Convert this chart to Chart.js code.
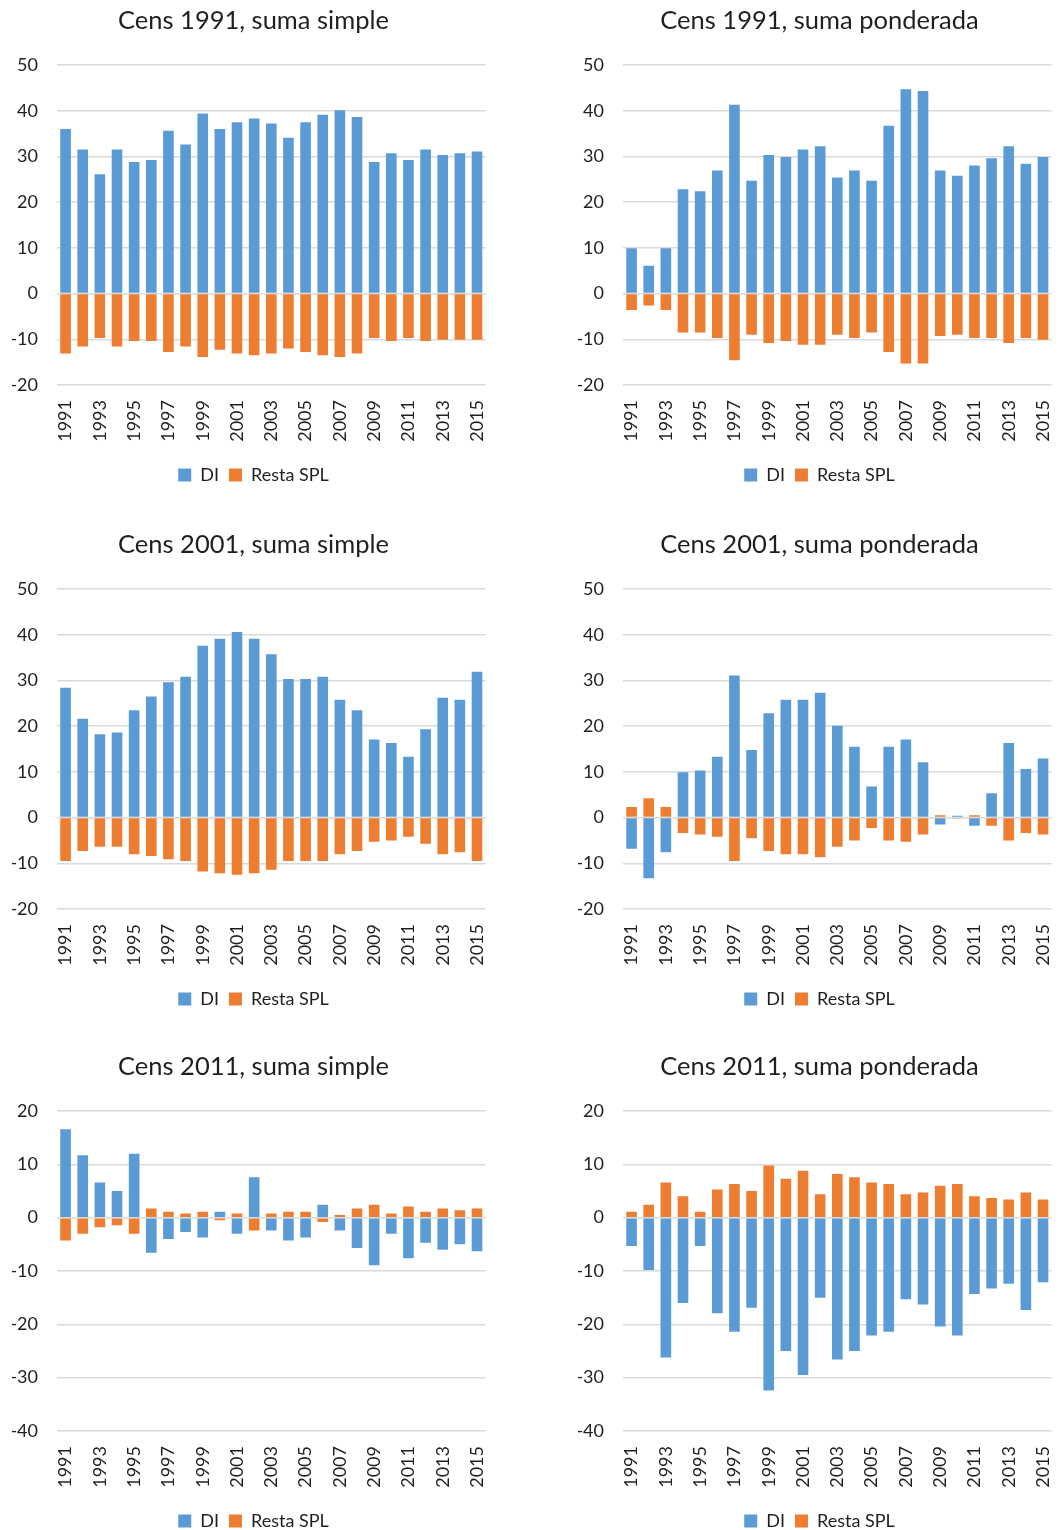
<!DOCTYPE html>
<html>
<head>
<meta charset="utf-8">
<script src="https://cdn.jsdelivr.net/npm/chart.js@4.4.1/dist/chart.umd.min.js"></script>
<style>
  html, body { margin: 0; padding: 0; background: #fff; overflow: hidden; }
  body { width: 1061px; height: 1530px; position: relative; }
  .cell { position: absolute; width: 502px; height: 494px; }
</style>
</head>
<body>
<div class="cell" style="left:12px;top:0"><canvas id="c1" width="502" height="494"></canvas></div>
<div class="cell" style="left:578px;top:0"><canvas id="c2" width="502" height="494"></canvas></div>
<div class="cell" style="left:12px;top:524px"><canvas id="c3" width="502" height="494"></canvas></div>
<div class="cell" style="left:578px;top:524px"><canvas id="c4" width="502" height="494"></canvas></div>
<div class="cell" style="left:12px;top:1046px"><canvas id="c5" width="502" height="494"></canvas></div>
<div class="cell" style="left:578px;top:1046px"><canvas id="c6" width="502" height="494"></canvas></div>
<script>
const years = ["1991","1992","1993","1994","1995","1996","1997","1998","1999","2000","2001","2002","2003",
  "2004","2005","2006","2007","2008","2009","2010","2011","2012","2013","2014","2015"];

// Cens 1991
const di1991Simple = [36.0,31.5,26.1,31.5,28.8,29.2,35.6,32.6,39.4,36.0,37.5,38.3,37.2,34.1,37.5,39.1,40.1,38.6,28.8,30.7,29.2,31.5,30.3,30.7,31.1];
const resta1991Simple = [-13.1,-11.6,-9.7,-11.6,-10.4,-10.4,-12.8,-11.6,-13.9,-12.3,-13.1,-13.5,-13.1,-12.0,-12.8,-13.5,-13.9,-13.1,-9.7,-10.4,-9.7,-10.4,-10.1,-10.1,-10.1];
const di1991Pond = [9.9,6.1,9.9,22.8,22.4,26.9,41.3,24.7,30.3,29.9,31.5,32.2,25.4,26.9,24.7,36.7,44.7,44.3,26.9,25.8,28.0,29.6,32.2,28.4,29.9];
const resta1991Pond = [-3.6,-2.6,-3.6,-8.5,-8.5,-9.7,-14.6,-9.0,-10.8,-10.4,-11.2,-11.2,-9.0,-9.7,-8.5,-12.8,-15.3,-15.3,-9.3,-9.0,-9.7,-9.7,-10.8,-9.7,-10.1];

// Cens 2001
const di2001Simple = [28.4,21.6,18.2,18.6,23.5,26.5,29.6,30.8,37.6,39.1,40.6,39.1,35.7,30.3,30.3,30.8,25.8,23.5,17.1,16.3,13.3,19.3,26.2,25.8,31.9];
const resta2001Simple = [-9.5,-7.3,-6.4,-6.4,-8.0,-8.4,-9.1,-9.5,-11.8,-12.2,-12.5,-12.2,-11.4,-9.5,-9.5,-9.5,-8.0,-7.3,-5.3,-5.0,-4.2,-5.7,-8.0,-7.6,-9.5];
const di2001Pond = [-6.8,-13.3,-7.6,9.9,10.3,13.3,31.1,14.8,22.8,25.8,25.8,27.3,20.1,15.5,6.8,15.5,17.1,12.1,-1.5,0.4,-1.8,5.3,16.3,10.6,12.9];
const resta2001Pond = [2.3,4.2,2.3,-3.4,-3.7,-4.2,-9.5,-4.5,-7.3,-8.0,-8.0,-8.7,-6.4,-5.0,-2.3,-5.0,-5.3,-3.7,0.5,-0.2,0.5,-1.8,-5.0,-3.4,-3.7];

// Cens 2011
const di2011Simple = [16.6,11.7,6.6,5.0,12.0,-6.6,-4.0,-2.7,-3.7,1.1,-3.0,7.6,-2.4,-4.3,-3.7,2.4,-2.4,-5.7,-8.9,-3.0,-7.6,-4.7,-6.0,-5.0,-6.3];
const resta2011Simple = [-4.3,-3.0,-1.8,-1.4,-3.0,1.7,1.1,0.8,1.1,-0.5,0.8,-2.4,0.8,1.1,1.1,-0.8,0.5,1.7,2.4,0.8,2.1,1.1,1.7,1.4,1.7];
const di2011Pond = [-5.3,-9.8,-26.2,-16.0,-5.3,-17.9,-21.4,-16.9,-32.4,-25.0,-29.5,-15.0,-26.6,-25.0,-22.1,-21.4,-15.3,-16.3,-20.4,-22.1,-14.3,-13.3,-12.4,-17.3,-12.1];
const resta2011Pond = [1.1,2.4,6.6,4.0,1.1,5.3,6.3,5.0,9.8,7.3,8.8,4.4,8.2,7.6,6.6,6.3,4.4,4.7,6.0,6.3,4.0,3.7,3.4,4.7,3.4];

const blue = "#5B9BD5";
const orange = "#ED7D31";
const textColor = "#1f1f1f";
const fontFamily = "Lato, 'Open Sans', sans-serif";

function makeChart(id, title, di, resta, yMin, yMax) {
  new Chart(document.getElementById(id), {
    type: "bar",
    data: {
      labels: years,
      datasets: [
        { label: "DI", data: di, backgroundColor: blue },
        { label: "Resta SPL", data: resta, backgroundColor: orange },
      ],
    },
    options: {
      responsive: false,
      animation: false,
      layout: { padding: { left: 0, right: 19, top: 0, bottom: 0 } },
      datasets: { bar: { barPercentage: 0.62, categoryPercentage: 1 } },
      plugins: {
        title: {
          display: true,
          text: title,
          color: textColor,
          font: { family: fontFamily, size: 25.5, weight: "normal", lineHeight: 1.2 },
          padding: { top: 5, bottom: 29.4 },
        },
        legend: {
          position: "bottom",
          labels: {
            color: textColor,
            font: { family: fontFamily, size: 18 },
            boxWidth: 13,
            boxHeight: 13,
            padding: 10,
          },
        },
        tooltip: { enabled: false },
      },
      scales: {
        x: {
          stacked: true,
          afterFit: (scale) => { scale.height = 71; },
          grid: { display: false, drawTicks: false },
          border: { display: false },
          ticks: {
            color: textColor,
            font: { family: fontFamily, size: 18 },
            autoSkip: false,
            minRotation: 90,
            maxRotation: 90,
            padding: 15,
            callback: (v, i) => (i % 2 === 0 ? years[i] : ""),
          },
        },
        y: {
          stacked: true,
          min: yMin,
          max: yMax,
          afterFit: (scale) => { scale.width = 45; },
          grid: { color: "#D9D9D9", lineWidth: 1.5, drawTicks: false },
          border: { display: false },
          ticks: {
            stepSize: 10,
            color: textColor,
            font: { family: fontFamily, size: 18 },
            padding: 19,
          },
        },
      },
    },
  });
}

makeChart("c1", "Cens 1991, suma simple", di1991Simple, resta1991Simple, -20, 50);
makeChart("c2", "Cens 1991, suma ponderada", di1991Pond, resta1991Pond, -20, 50);
makeChart("c3", "Cens 2001, suma simple", di2001Simple, resta2001Simple, -20, 50);
makeChart("c4", "Cens 2001, suma ponderada", di2001Pond, resta2001Pond, -20, 50);
makeChart("c5", "Cens 2011, suma simple", di2011Simple, resta2011Simple, -40, 20);
makeChart("c6", "Cens 2011, suma ponderada", di2011Pond, resta2011Pond, -40, 20);
</script>
</body>
</html>
